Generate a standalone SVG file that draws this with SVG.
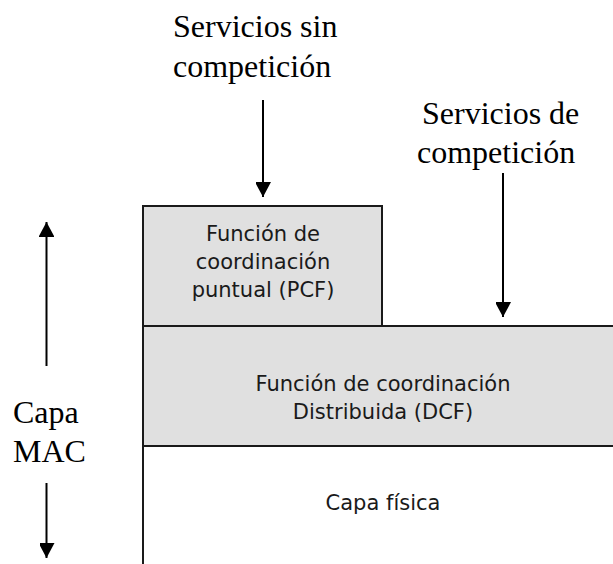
<svg xmlns="http://www.w3.org/2000/svg" width="613" height="564" viewBox="0 0 613 564">
<defs>
<style>
.box{stroke:#1a1a1a;stroke-width:2;}
.gray{fill:#e0e0e0;}
.st{font-family:"DejaVu Sans","Liberation Sans",sans-serif;font-size:21px;fill:#1a1a1a;text-anchor:middle;}
.sr{font-family:"Liberation Serif","Times New Roman",serif;font-size:32px;fill:#000;}
.arr{stroke:#000;stroke-width:2;fill:none;marker-end:url(#ah);}
</style>
<marker id="ah" markerUnits="userSpaceOnUse" markerWidth="17" markerHeight="15" refX="15" refY="8" orient="auto">
<path d="M0,0 L15,8 L0,16 Z" fill="#000"/>
</marker>
</defs>
<rect width="613" height="564" fill="#fff"/>
<g id="pcf">
<rect class="box gray" x="143" y="206" width="239" height="120"/>
<text class="st" x="263" y="241">Función de</text>
<text class="st" x="263" y="269">coordinación</text>
<text class="st" x="263" y="297">puntual (PCF)</text>
</g>
<g id="dcf">
<rect class="box gray" x="143" y="326" width="480" height="120"/>
<text class="st" x="383" y="391">Función de coordinación</text>
<text class="st" x="383" y="419">Distribuida (DCF)</text>
</g>
<g id="fisica">
<path class="box" d="M143,446 V564 M143,446 H613" fill="none"/>
<text class="st" x="383" y="510">Capa física</text>
</g>
<g id="servicios-sin">
<text class="sr" x="173" y="37">Servicios sin</text>
<text class="sr" x="173" y="77">competición</text>
</g>
<g id="servicios-de">
<text class="sr" x="422" y="124">Servicios de</text>
<text class="sr" x="417" y="163">competición</text>
</g>
<g id="capa-mac">
<text class="sr" x="13" y="423">Capa</text>
<text class="sr" x="13" y="462">MAC</text>
</g>
<g id="connectors">
<path class="arr" d="M263,100 V197"/>
<path class="arr" d="M503,173 V317"/>
<path class="arr" d="M46.5,366 V222"/>
<path class="arr" d="M46.5,483 V558"/>
</g>
</svg>
